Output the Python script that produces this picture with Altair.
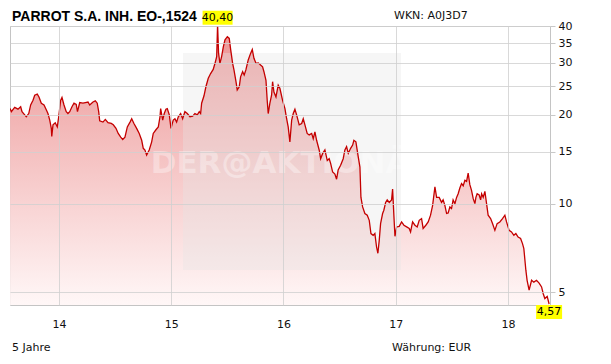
import altair as alt
import pandas as pd

# Decimal years (14 = start of 2014) and closing prices in EUR
years = [
    13.565, 13.576, 13.606, 13.635, 13.659, 13.671, 13.695, 13.709, 13.731, 13.748,
    13.769, 13.784, 13.807, 13.822, 13.843, 13.867, 13.887, 13.902, 13.918, 13.932,
    13.936, 13.947, 13.967, 13.985, 13.998, 14.015, 14.027, 14.045, 14.065, 14.080,
    14.096, 14.116, 14.134, 14.154, 14.165, 14.185, 14.214, 14.235, 14.259, 14.274,
    14.303, 14.324, 14.341, 14.354, 14.363, 14.392, 14.413, 14.437, 14.466, 14.484,
    14.508, 14.528, 14.550, 14.568, 14.588, 14.609, 14.633, 14.648, 14.668, 14.692,
    14.715, 14.737, 14.751, 14.766, 14.781, 14.804, 14.826, 14.840, 14.864, 14.885,
    14.900, 14.906, 14.924, 14.938, 14.953, 14.965, 14.983, 14.998, 15.018, 15.033,
    15.048, 15.063, 15.084, 15.102, 15.122, 15.143, 15.167, 15.191, 15.211, 15.232,
    15.250, 15.262, 15.271, 15.292, 15.309, 15.330, 15.351, 15.374, 15.390, 15.405,
    15.413, 15.422, 15.434, 15.449, 15.464, 15.479, 15.500, 15.517, 15.530, 15.547,
    15.559, 15.577, 15.588, 15.606, 15.618, 15.636, 15.650, 15.665, 15.686, 15.707,
    15.722, 15.737, 15.755, 15.775, 15.796, 15.814, 15.826, 15.844, 15.855, 15.864,
    15.879, 15.894, 15.903, 15.915, 15.933, 15.953, 15.968, 15.992, 16.013, 16.028,
    16.042, 16.057, 16.073, 16.087, 16.102, 16.117, 16.140, 16.162, 16.176, 16.191,
    16.211, 16.229, 16.251, 16.265, 16.280, 16.295, 16.318, 16.331, 16.349, 16.369,
    16.390, 16.407, 16.420, 16.438, 16.458, 16.473, 16.487, 16.509, 16.532, 16.547,
    16.562, 16.577, 16.598, 16.616, 16.627, 16.645, 16.666, 16.681, 16.690, 16.705,
    16.725, 16.746, 16.764, 16.779, 16.799, 16.814, 16.829, 16.841, 16.853, 16.865,
    16.883, 16.894, 16.910, 16.924, 16.942, 16.963, 16.972, 16.984, 16.993, 17.008,
    17.031, 17.052, 17.073, 17.097, 17.120, 17.132, 17.150, 17.171, 17.191, 17.209,
    17.230, 17.244, 17.268, 17.289, 17.310, 17.328, 17.349, 17.364, 17.387, 17.408,
    17.422, 17.438, 17.453, 17.467, 17.482, 17.497, 17.511, 17.527, 17.542, 17.556,
    17.571, 17.586, 17.601, 17.616, 17.631, 17.645, 17.660, 17.675, 17.690, 17.705,
    17.714, 17.725, 17.743, 17.756, 17.765, 17.779, 17.794, 17.809, 17.823, 17.845,
    17.862, 17.883, 17.903, 17.927, 17.951, 17.972, 17.987, 18.010, 18.031, 18.052,
    18.070, 18.090, 18.112, 18.129, 18.141, 18.159, 18.170, 18.188, 18.210, 18.230,
    18.254, 18.277, 18.299, 18.313, 18.328, 18.349, 18.366,
]
prices = [
    21.0, 20.5, 21.2, 20.9, 21.3, 20.5, 20.0, 19.7, 20.2, 21.6,
    22.4, 23.3, 23.5, 23.0, 21.9, 21.6, 20.8, 20.2, 19.2, 18.0,
    16.9, 18.5, 18.8, 18.2, 19.7, 22.4, 22.9, 21.6, 20.5, 20.2,
    20.5, 21.3, 21.9, 21.7, 20.5, 22.0, 21.9, 22.0, 22.1, 21.6,
    22.1, 22.3, 21.9, 20.5, 19.1, 18.9, 19.3, 18.8, 18.7, 18.5,
    18.0, 17.3, 16.8, 16.5, 16.8, 18.2, 18.9, 19.4, 18.7, 18.0,
    17.3, 16.4, 15.4, 15.2, 14.6, 15.2, 16.2, 17.3, 17.8, 18.2,
    19.7, 21.0, 19.2, 20.2, 20.9, 21.0, 20.0, 18.0, 19.2, 19.4,
    18.9, 19.7, 20.2, 19.4, 20.5, 20.2, 19.7, 19.8, 20.2, 20.0,
    20.5, 20.2, 21.9, 23.2, 24.9, 26.6, 27.6, 28.5, 29.9, 31.5,
    40.4, 32.3, 29.9, 31.5, 34.0, 35.9, 36.8, 36.3, 33.2, 29.9,
    28.4, 25.9, 24.3, 24.9, 26.9, 28.0, 27.3, 28.4, 30.7, 32.3,
    33.3, 31.1, 29.9, 30.0, 29.5, 29.1, 28.0, 26.2, 22.4, 20.2,
    21.9, 23.3, 25.9, 23.9, 23.0, 25.2, 24.6, 22.4, 21.0, 19.4,
    18.2, 16.2, 19.2, 20.2, 20.9, 20.0, 18.5, 18.7, 19.4, 18.5,
    17.3, 17.1, 17.3, 16.6, 17.5, 16.4, 15.2, 14.2, 14.8, 15.2,
    14.0, 14.2, 13.7, 12.8, 12.6, 12.1, 13.0, 13.5, 14.2, 15.2,
    15.6, 14.8, 15.4, 15.8, 16.4, 16.2, 14.4, 13.3, 10.5, 9.75,
    9.26, 9.14, 8.78, 7.92, 7.81, 7.92, 7.13, 6.79, 7.51, 8.56,
    9.26, 9.5, 10.1, 10.3, 10.1, 10.3, 11.2, 9.02, 7.75, 8.34,
    8.38, 8.67, 8.45, 8.34, 8.24, 8.02, 8.67, 8.45, 8.34, 8.78,
    8.90, 8.24, 8.45, 8.67, 9.14, 9.85, 11.4, 10.5, 10.5, 10.1,
    10.3, 9.85, 9.26, 9.30, 9.75, 9.63, 10.3, 10.0, 10.5, 10.8,
    11.3, 11.7, 11.5, 12.0, 11.9, 12.7, 11.6, 11.1, 10.4, 10.0,
    10.5, 10.8, 10.7, 10.3, 10.8, 10.5, 11.0, 10.0, 9.14, 8.90,
    8.56, 8.12, 8.56, 8.67, 8.90, 9.14, 8.67, 8.12, 8.02, 7.81,
    7.92, 7.71, 7.62, 7.32, 7.04, 5.95, 5.5, 5.09, 5.5, 5.42,
    5.5, 5.38, 5.22, 4.96, 4.77, 4.85, 4.57,
]

year_ticks = [14, 15, 16, 17, 18]
price_ticks = [5, 10, 15, 20, 25, 30, 35, 40]
x_domain = [13.564, 18.374]
y_domain = [4.535, 40]

ann_years = [15.413, 18.366]
ann_prices = [40.4, 4.57]
ann_labels = ["40,40", "4,57"]

title_text = "PARROT S.A. INH. EO-,1524"
wkn_text = "WKN: A0J3D7"
period_text = "5 Jahre"
currency_text = "Währung: EUR"
watermark_text = "DER@AKTIONÄR"

df = pd.DataFrame({"year": years, "price": prices})
ann_top = pd.DataFrame({"year": ann_years[:1], "price": ann_prices[:1], "label": ann_labels[:1]})
ann_end = pd.DataFrame({"year": ann_years[1:], "price": ann_prices[1:], "label": ann_labels[1:]})

FONT = "DejaVu Sans"
GRID = "#cfcfcf"

x_scale = alt.Scale(domain=x_domain, nice=False, zero=False)
y_scale = alt.Scale(type="log", domain=y_domain, nice=False)

x_axis = alt.Axis(values=year_ticks, format="d", grid=True, gridColor=GRID,
                  gridOpacity=0.8, zindex=1,
                  tickSize=0, domain=False, labelPadding=13, title=None,
                  labelFont=FONT, labelFontSize=11, labelColor="#111111")
y_axis = alt.Axis(orient="right", values=price_ticks, format="d", grid=True,
                  gridColor=GRID, gridOpacity=0.8, zindex=1,
                  tickSize=5, tickColor="#c8c8c8", domain=False,
                  labelPadding=3, title=None, labelFont=FONT, labelFontSize=11,
                  labelColor="#111111", labelBaseline="middle")

x_enc = alt.X("year:Q", scale=x_scale, axis=x_axis)
y_enc = alt.Y("price:Q", scale=y_scale, axis=y_axis)

area = alt.Chart(df).mark_area(
    clip=True,
    color=alt.Gradient(
        gradient="linear",
        stops=[alt.GradientStop(color="#ec9393", offset=0),
               alt.GradientStop(color="#fff7f7", offset=1)],
        x1=1, x2=1, y1=0, y2=1,
    ),
).encode(x=x_enc, y=y_enc, y2=alt.datum(y_domain[0]))

one = alt.Data(values=[{}])

wm_rect = alt.Chart(one).mark_rect(fill="#e6e6e6", opacity=0.35).encode(
    x=alt.value(173), x2=alt.value(391), y=alt.value(27), y2=alt.value(244)
)
wm_text = alt.Chart(one).mark_text(
    text=watermark_text, font=FONT, fontSize=31, fontWeight="bold",
    color="#ffffff", opacity=0.35, align="center", baseline="middle",
).encode(x=alt.value(282), y=alt.value(138))

line = alt.Chart(df).mark_line(color="#c40000", strokeWidth=1.3, clip=True).encode(
    x=x_enc, y=y_enc
)

top_box = alt.Chart(ann_top).mark_rect(color="#ffff00", width=30, height=14, yOffset=-7).encode(
    x=x_enc, y=y_enc
)
top_lbl = alt.Chart(ann_top).mark_text(
    font=FONT, fontSize=11, color="#000000", align="center", baseline="middle", dy=-7
).encode(x=x_enc, y=y_enc, text="label:N")
end_box = alt.Chart(ann_end).mark_rect(color="#ffff00", width=26, height=14, yOffset=8).encode(
    x=x_enc, y=y_enc
)
end_lbl = alt.Chart(ann_end).mark_text(
    font=FONT, fontSize=11, color="#000000", align="center", baseline="middle", dy=8
).encode(x=x_enc, y=y_enc, text="label:N")

title = alt.Chart(one).mark_text(
    text=title_text, font="Liberation Sans", fontSize=14, fontWeight="bold",
    color="#000000", align="left", baseline="alphabetic",
).encode(x=alt.value(2), y=alt.value(-5))
wkn = alt.Chart(one).mark_text(
    text=wkn_text, font=FONT, fontSize=11, color="#111111", align="left", baseline="middle",
).encode(x=alt.value(384), y=alt.value(-10))
period = alt.Chart(one).mark_text(
    text=period_text, font=FONT, fontSize=11, color="#111111", align="left", baseline="middle",
).encode(x=alt.value(2), y=alt.value(322))
currency = alt.Chart(one).mark_text(
    text=currency_text, font=FONT, fontSize=11, color="#111111", align="left", baseline="middle",
).encode(x=alt.value(382), y=alt.value(322))

chart = alt.layer(
    area, wm_rect, wm_text, line, top_box, top_lbl, end_box, end_lbl,
    title, wkn, period, currency,
).properties(
    width=540, height=279,
    padding={"left": 10, "top": 26, "right": 61, "bottom": 59},
    autosize=alt.AutoSizeParams(type="none"),
    background="#ffffff",
).configure_view(stroke="#c4c4c4", strokeWidth=1)

chart.save("out.html", embed_options={"renderer": "svg", "actions": False})
